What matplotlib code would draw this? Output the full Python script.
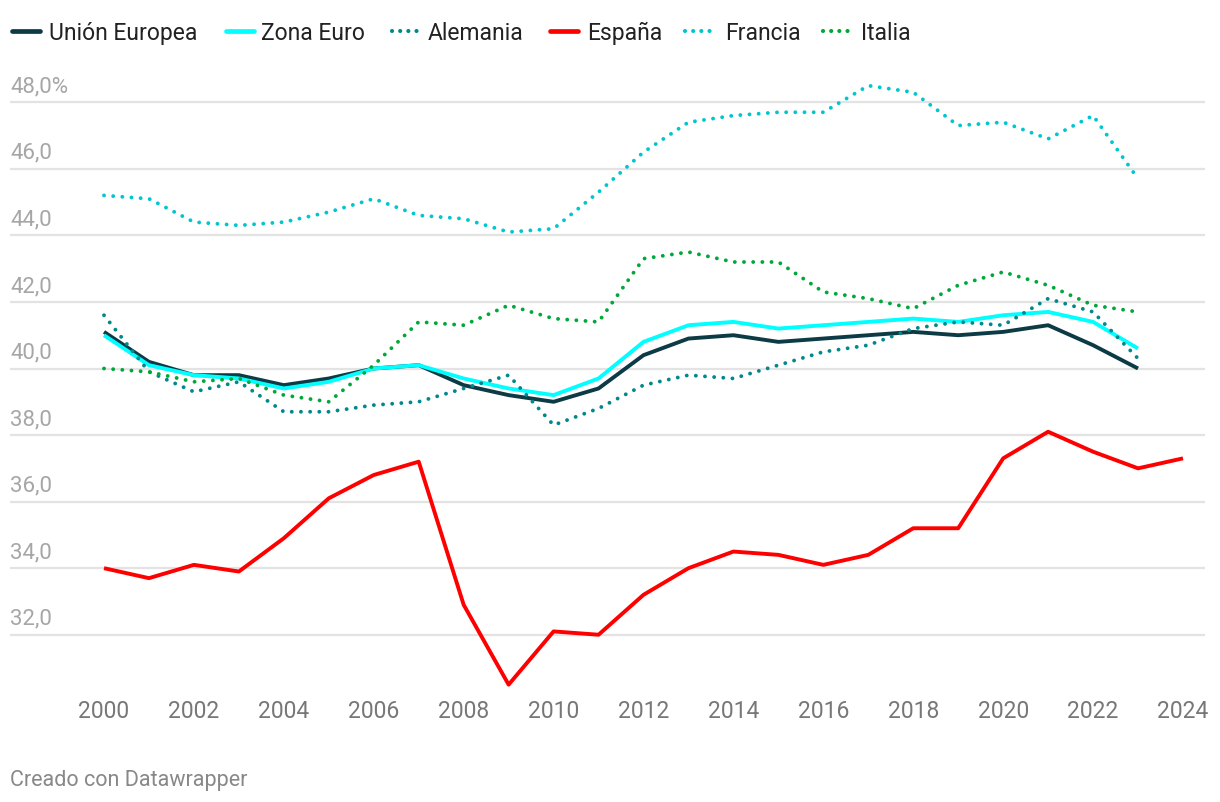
import matplotlib
matplotlib.use("Agg")
import matplotlib.pyplot as plt
from matplotlib.lines import Line2D

plt.rcParams['font.family'] = ['Roboto', 'DejaVu Sans']

years = list(range(2000, 2025))

ue = [41.1, 40.2, 39.8, 39.8, 39.5, 39.7, 40.0, 40.1, 39.5, 39.2, 39.0, 39.4,
      40.4, 40.9, 41.0, 40.8, 40.9, 41.0, 41.1, 41.0, 41.1, 41.3, 40.7, 40.0]
zona_euro = [41.0, 40.1, 39.8, 39.7, 39.4, 39.6, 40.0, 40.1, 39.7, 39.4, 39.2, 39.7,
             40.8, 41.3, 41.4, 41.2, 41.3, 41.4, 41.5, 41.4, 41.6, 41.7, 41.4, 40.6]
alemania = [41.6, 39.9, 39.3, 39.6, 38.7, 38.7, 38.9, 39.0, 39.4, 39.8, 38.3, 38.8,
            39.5, 39.8, 39.7, 40.1, 40.5, 40.7, 41.2, 41.4, 41.3, 42.1, 41.7, 40.3]
espana = [34.0, 33.7, 34.1, 33.9, 34.9, 36.1, 36.8, 37.2, 32.9, 30.5, 32.1, 32.0,
          33.2, 34.0, 34.5, 34.4, 34.1, 34.4, 35.2, 35.2, 37.3, 38.1, 37.5, 37.0, 37.3]
francia = [45.2, 45.1, 44.4, 44.3, 44.4, 44.7, 45.1, 44.6, 44.5, 44.1, 44.2, 45.3,
           46.5, 47.4, 47.6, 47.7, 47.7, 48.5, 48.3, 47.3, 47.4, 46.9, 47.6, 45.7]
italia = [40.0, 39.9, 39.6, 39.7, 39.2, 39.0, 40.1, 41.4, 41.3, 41.9, 41.5, 41.4,
          43.3, 43.5, 43.2, 43.2, 42.3, 42.1, 41.8, 42.5, 42.9, 42.5, 41.9, 41.7]

labels = ["Unión Europea", "Zona Euro", "Alemania", "España", "Francia", "Italia"]
colors = ["#0d3b45", "#00ffff", "#00898c", "#ff0000", "#00c6cf", "#00a83a"]
styles = ["solid", "solid", "dot", "solid", "dot", "dot"]

yticks = [32, 34, 36, 38, 40, 42, 44, 46, 48]
ytick_labels = ["32,0", "34,0", "36,0", "38,0", "40,0", "42,0", "44,0", "46,0", "48,0%"]
xticks = list(range(2000, 2025, 2))

W, H = 1220, 802
fig = plt.figure(figsize=(W / 100, H / 100), dpi=100)
fig.patch.set_facecolor("white")

left_px, right_px, top_px, bot_px = 10, 1205, 80, 690
ax = fig.add_axes([left_px / W, 1 - bot_px / H, (right_px - left_px) / W, (bot_px - top_px) / H])

px_per_year = (1183 - 104) / 24.0
x0 = 2000 - (104 - left_px) / px_per_year
x1 = 2000 + (right_px - 104) / px_per_year
ax.set_xlim(x0, x1)
px_per_unit = 33.28
y_top = 40 + (368.5 - top_px) / px_per_unit
y_bot = 40 - (bot_px - 368.5) / px_per_unit
ax.set_ylim(y_bot, y_top)

for s in ax.spines.values():
    s.set_visible(False)
ax.set_yticks(yticks)
ax.set_yticklabels([])
ax.tick_params(axis='y', length=0)
ax.yaxis.grid(True, color="#e3e3e3", linewidth=1.6)
ax.xaxis.grid(False)
ax.set_axisbelow(True)

ax.set_xticks(xticks)
ax.set_xticklabels([str(x) for x in xticks], fontsize=16.5, color="#777777")
ax.tick_params(axis='x', length=0, pad=7)

for yv, lab in zip(yticks, ytick_labels):
    ax.text(0, yv + 10 / px_per_unit, lab, transform=ax.get_yaxis_transform(),
            fontsize=16, color="#a6a6a6", ha="left", va="baseline")

series = [ue, zona_euro, alemania, espana, francia, italia]
order = [1, 0, 3, 2, 4, 5]
for i in order:
    ys = series[i]
    xs = years[:len(ys)]
    if styles[i] == "solid":
        ax.plot(xs, ys, color=colors[i], lw=2.8, solid_joinstyle="round",
                solid_capstyle="butt", zorder=3 + i)
    else:
        ax.plot(xs, ys, color=colors[i], lw=2.8, linestyle=(0, (0.01, 2.35)),
                dash_capstyle="round", zorder=3 + i)

# Legend
leg_y = 1 - 31 / H
leg_handles = [(12, 40), (226, 254), (392, 420), (550, 578), (685, 713), (823, 852)]
leg_text_x = [49, 261, 428, 587, 725, 861]
for i in range(6):
    hx0, hx1 = leg_handles[i]
    if styles[i] == "solid":
        ln = Line2D([hx0 / W, hx1 / W], [leg_y, leg_y], transform=fig.transFigure,
                    color=colors[i], lw=3.4, solid_capstyle="round")
    else:
        ln = Line2D([hx0 / W, hx1 / W], [leg_y, leg_y], transform=fig.transFigure,
                    color=colors[i], lw=3.0, linestyle=(0, (0.01, 1.95)),
                    dash_capstyle="round")
    fig.add_artist(ln)
    fig.text(leg_text_x[i] / W, leg_y, labels[i], fontsize=16.5, color="#222222",
             ha="left", va="center_baseline")

fig.text(10 / W, 1 - 778 / H, "Creado con Datawrapper", fontsize=15.5, color="#888888",
         ha="left", va="center_baseline")

fig.savefig("out.png", dpi=100, facecolor="white")
